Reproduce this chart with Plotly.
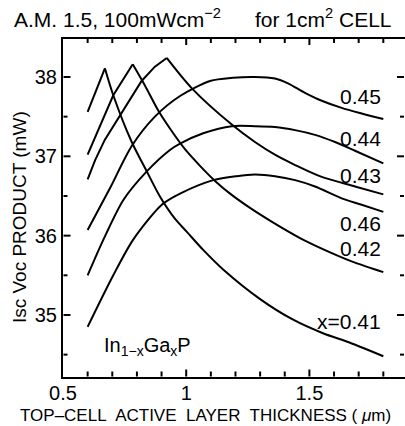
import numpy as np
import plotly.graph_objects as go

# ---- data ----
labels = ["x=0.41", "0.42", "0.43", "0.44", "0.45", "0.46"]

x_041 = [0.6, 0.670, 0.704, 0.779, 0.840, 0.894, 0.955, 1.002, 1.069, 1.151, 1.300, 1.434, 1.555, 1.665, 1.8]
y_041 = [37.56, 38.11, 37.77, 37.18, 36.81, 36.49, 36.21, 36.05, 35.82, 35.57, 35.20, 34.94, 34.77, 34.65, 34.48]

x_042 = [0.6, 0.704, 0.783, 0.833, 0.886, 0.934, 0.995, 1.056, 1.117, 1.178, 1.259, 1.340, 1.462, 1.584, 1.685, 1.8]
y_042 = [37.02, 37.77, 38.16, 37.89, 37.58, 37.35, 37.09, 36.88, 36.69, 36.53, 36.35, 36.19, 35.97, 35.79, 35.66, 35.54]

x_043 = [0.6, 0.630, 0.670, 0.731, 0.819, 0.873, 0.921, 1.022, 1.185, 1.279, 1.360, 1.442, 1.550, 1.685, 1.8]
y_043 = [36.71, 36.95, 37.21, 37.52, 37.95, 38.13, 38.24, 37.86, 37.40, 37.18, 37.02, 36.89, 36.74, 36.62, 36.52]

x_044 = [0.6, 0.664, 0.745, 0.840, 0.934, 0.975, 1.069, 1.185, 1.279, 1.360, 1.442, 1.523, 1.604, 1.685, 1.8]
y_044 = [35.50, 35.95, 36.45, 36.81, 37.08, 37.16, 37.29, 37.38, 37.38, 37.37, 37.33, 37.27, 37.18, 37.07, 36.91]

x_045 = [0.6, 0.691, 0.779, 0.873, 0.975, 1.097, 1.190, 1.279, 1.360, 1.413, 1.482, 1.550, 1.631, 1.712, 1.8]
y_045 = [36.07, 36.60, 37.13, 37.50, 37.76, 37.95, 37.99, 38.00, 37.98, 37.92, 37.80, 37.70, 37.61, 37.54, 37.47]

x_046 = [0.6, 0.704, 0.785, 0.901, 0.975, 1.110, 1.205, 1.279, 1.360, 1.442, 1.523, 1.631, 1.712, 1.8]
y_046 = [34.85, 35.50, 35.95, 36.39, 36.53, 36.70, 36.75, 36.77, 36.75, 36.70, 36.62, 36.47, 36.39, 36.30]

series_x = [x_041, x_042, x_043, x_044, x_045, x_046]
series_y = [y_041, y_042, y_043, y_044, y_045, y_046]
cusped = [True, True, True, False, False, False]

X_RANGE = [0.5, 1.888]
Y_RANGE = [34.218, 38.504]
X_MAJOR, X_MINOR = 0.5, 0.1
Y_MAJOR, Y_MINOR = 1.0, 0.5

FONT = "Liberation Sans, Arial, Helvetica, sans-serif"
W, H = 405, 426
M = dict(l=63, r=0, t=37, b=49)
line_style = dict(color="black", width=2)

fig = go.Figure()
for xs, ys, cusp, name in zip(series_x, series_y, cusped, labels):
    if cusp:
        k = ys.index(max(ys))
        fig.add_trace(go.Scatter(x=xs[:k + 1], y=ys[:k + 1], mode="lines",
                                 line=dict(**line_style, shape="linear"),
                                 showlegend=False, hoverinfo="skip"))
        fig.add_trace(go.Scatter(x=xs[k:], y=ys[k:], mode="lines",
                                 line=dict(**line_style, shape="spline", smoothing=0.8),
                                 showlegend=False, name=name))
    else:
        fig.add_trace(go.Scatter(x=xs, y=ys, mode="lines",
                                 line=dict(**line_style, shape="spline", smoothing=0.8),
                                 showlegend=False, name=name))

# ---- inward tick marks on all four sides and the top frame line (axis decoration) ----
px_x = (W - M["l"] - M["r"]) / (X_RANGE[1] - X_RANGE[0])
px_y = (H - M["t"] - M["b"]) / (Y_RANGE[1] - Y_RANGE[0])

def is_major(v, step):
    return abs(v / step - round(v / step)) < 1e-6

def seg(xs, ys):
    fig.add_trace(go.Scatter(x=xs, y=ys, mode="lines",
                             line=dict(color="black", width=2),
                             showlegend=False, hoverinfo="skip"))

xt = [round(float(v), 3) for v in np.arange(X_RANGE[0], X_RANGE[1] + 1e-9, X_MINOR)]
yt = [round(float(v), 3) for v in np.arange(34.5, Y_RANGE[1], Y_MINOR)]

y_in_bot = Y_RANGE[0] + 0.5 / px_y
y_in_top = Y_RANGE[1] - 1.0 / px_y
x_in_left = X_RANGE[0] + 0.5 / px_x
x_in_right = X_RANGE[1] - 1.0 / px_x

for v in xt[1:]:
    ln = (7 if is_major(v, X_MAJOR) else 5) / px_y
    seg([v, v], [y_in_bot, y_in_bot + ln])
    seg([v, v], [y_in_top, y_in_top - ln])
for v in yt:
    ln = (7 if is_major(v, Y_MAJOR) else 4) / px_x
    seg([x_in_left, x_in_left + ln], [v, v])
    seg([x_in_right, x_in_right - ln], [v, v])
# top frame line, just inside the top edge
seg([X_RANGE[0], X_RANGE[1]], [y_in_top, y_in_top])

# curve labels (right aligned)
label_pos = {"0.45": 37.75, "0.44": 37.22, "0.43": 36.76, "0.46": 36.15, "0.42": 35.84, "x=0.41": 34.92}
for txt, yv in label_pos.items():
    fig.add_annotation(x=1.8, y=yv, xref="x", yref="y", text=txt, showarrow=False,
                       xanchor="right", yanchor="middle",
                       font=dict(family=FONT, size=21, color="black"))

fig.add_annotation(x=0.657, y=34.60, xref="x", yref="y",
                   text="In<sub>1−x</sub>Ga<sub>x</sub>P", showarrow=False,
                   xanchor="left", yanchor="middle",
                   font=dict(family=FONT, size=20, color="black"))

# header texts
fig.add_annotation(x=-0.149, y=1.056, xref="paper", yref="paper",
                   text="A.M. 1.5, 100mWcm<sup>−2</sup>", showarrow=False,
                   xanchor="left", yanchor="middle",
                   font=dict(family=FONT, size=21, color="black"))
fig.add_annotation(x=0.556, y=1.056, xref="paper", yref="paper",
                   text="for 1cm<sup>2</sup> CELL", showarrow=False,
                   xanchor="left", yanchor="middle",
                   font=dict(family=FONT, size=21, color="black"))

# axis titles
fig.add_annotation(x=-0.125, y=0.471, xref="paper", yref="paper",
                   text="Isc Voc PRODUCT (mW)", showarrow=False, textangle=-90,
                   xanchor="center", yanchor="middle",
                   font=dict(family=FONT, size=19, color="black"))
fig.add_annotation(x=0.418, y=-0.113, xref="paper", yref="paper",
                   text="TOP–CELL\u00a0 ACTIVE\u00a0 LAYER\u00a0 THICKNESS ( <i>μ</i>m)", showarrow=False,
                   xanchor="center", yanchor="middle",
                   font=dict(family=FONT, size=17, color="black"))

fig.update_layout(
    template="none",
    width=W, height=H,
    margin=M,
    paper_bgcolor="white", plot_bgcolor="white",
    font=dict(family=FONT, size=19, color="black"),
)
fig.update_xaxes(range=X_RANGE, tick0=0.5, dtick=X_MAJOR, ticks="",
                 showline=True, linewidth=2, linecolor="black",
                 showgrid=False, zeroline=False, automargin=False,
                 ticklabelstandoff=-3,
                 tickfont=dict(family=FONT, size=20, color="black"))
fig.update_yaxes(range=Y_RANGE, tick0=35, dtick=Y_MAJOR, ticks="",
                 showline=True, linewidth=2, linecolor="black",
                 showgrid=False, zeroline=False, automargin=False,
                 tickfont=dict(family=FONT, size=20, color="black"))

fig.write_html("out.html")
